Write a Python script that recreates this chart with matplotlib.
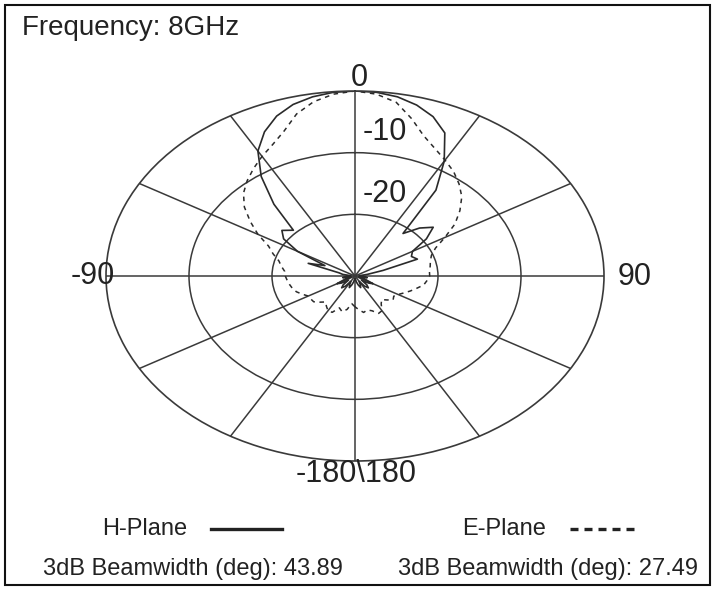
import numpy as np
import matplotlib.pyplot as plt
from matplotlib.lines import Line2D
from matplotlib.patches import Rectangle


# measured pattern, angle in degrees (0 = boresight, clockwise), gain in dB
ANGLES_DEG = list(range(-180, 181, 5))

H_PLANE_DB = [
    -29.5, -29.5, -29.0, -28.5, -28.0, -28.5, -29.0, -28.0, -27.5, -28.0,
    -29.0, -28.0, -27.5, -28.5, -29.5, -29.0, -28.5, -29.0, -29.5, -29.5,
    -28.5, -28.0, -24.0, -26.0, -22.0, -19.5, -18.5, -19.5, -14.8, -10.3,
    -6.6, -4.2, -2.4, -1.2, -0.5, -0.1, 0.0, -0.1, -0.5, -1.3,
    -2.5, -4.4, -8.5, -13.0, -21.0, -19.0, -17.7, -19.5, -22.0, -22.5,
    -22.0, -26.5, -28.5, -29.5, -29.5, -29.0, -28.5, -29.0, -29.5, -28.5,
    -27.5, -28.0, -29.0, -28.0, -27.5, -28.0, -29.0, -28.5, -28.0, -28.5,
    -29.0, -29.5, -29.5,
]

E_PLANE_DB = [
    -25.0, -25.5, -24.5, -24.0, -24.5, -23.5, -23.5, -24.0, -24.5, -24.0,
    -23.5, -23.5, -23.5, -23.0, -22.5, -22.2, -22.0, -21.8, -21.6, -21.5,
    -21.0, -20.5, -19.5, -18.5, -16.5, -14.6, -12.6, -11.0, -9.8, -8.7,
    -7.6, -6.5, -5.0, -2.8, -1.3, -0.4, 0.0, -0.4, -1.4, -3.6,
    -5.8, -7.2, -8.3, -9.3, -10.5, -11.8, -13.5, -15.3, -17.5, -19.3,
    -20.2, -20.6, -20.8, -21.0, -21.0, -21.3, -21.6, -22.3, -22.9, -23.5,
    -24.0, -24.3, -24.0, -24.5, -25.0, -24.5, -23.5, -23.3, -24.0, -24.3,
    -24.0, -24.5, -25.0,
]

ANGLE_LABELS = {"0": (0.508, 1.035), "90": (1.062, 0.497),
                "-90": (-0.026, 0.499), "-180\\180": (0.503, -0.034)}
RING_LABELS = {"-10": (0.516, 0.890), "-20": (0.516, 0.722)}

H_BEAMWIDTH = 43.89
E_BEAMWIDTH = 27.49
FREQ_TEXT = "Frequency: 8GHz"


def main():
    plt.rcParams.update({
        "font.family": ["Liberation Sans", "DejaVu Sans"],
        "text.color": "#222222",
    })

    W, H = 712, 590
    fig = plt.figure(figsize=(W / 100, H / 100), dpi=100)

    # elliptical polar grid: polar axes stretched into a wide box
    ax = fig.add_axes([106 / W, (H - 461) / H, 498 / W, 370 / H], projection="polar")
    ax.set_aspect("auto")
    ax.set_theta_zero_location("N")
    ax.set_theta_direction(-1)
    ax.set_ylim(-30, 0)

    grid_col = "#3a3a3a"
    ax.set_thetagrids(np.arange(0, 360, 30), labels=[])
    ax.set_rgrids([-20, -10], labels=[])
    ax.grid(True, color=grid_col, linewidth=1.1, linestyle="-")
    ax.spines["polar"].set_color(grid_col)
    ax.spines["polar"].set_linewidth(1.2)
    ax.tick_params(length=0)

    theta = np.deg2rad(ANGLES_DEG)
    ax.plot(theta, H_PLANE_DB, color="#2a2a2a", linewidth=1.2, solid_joinstyle="round")
    ax.plot(theta, E_PLANE_DB, color="#2a2a2a", linewidth=1.1, dashes=(3, 3))

    for txt, (fx, fy) in ANGLE_LABELS.items():
        ax.text(fx, fy, txt, transform=ax.transAxes, ha="center", va="center",
                fontsize=22, clip_on=False)
    for txt, (fx, fy) in RING_LABELS.items():
        ax.text(fx, fy, txt, transform=ax.transAxes, ha="left", va="center",
                fontsize=22, clip_on=False)

    fig.text(22 / W, 1 - 28 / H, FREQ_TEXT, ha="left", va="center", fontsize=20)

    # legend rows
    fig.text(145 / W, 1 - 529 / H, "H-Plane", ha="center", va="center", fontsize=17)
    fig.add_artist(Line2D([211 / W, 282 / W], [1 - 529 / H] * 2, transform=fig.transFigure,
                          color="#222222", linewidth=2.4))
    fig.text(504 / W, 1 - 529 / H, "E-Plane", ha="center", va="center", fontsize=17)
    fig.add_artist(Line2D([570 / W, 634 / W], [1 - 529 / H] * 2, transform=fig.transFigure,
                          color="#222222", linewidth=2.4, dashes=(2.4, 1.8)))

    fig.text(193 / W, 1 - 569 / H, f"3dB Beamwidth (deg): {H_BEAMWIDTH:.2f}",
             ha="center", va="center", fontsize=17)
    fig.text(548 / W, 1 - 569 / H, f"3dB Beamwidth (deg): {E_BEAMWIDTH:.2f}",
             ha="center", va="center", fontsize=17)

    fig.add_artist(Rectangle((4.5 / W, 5 / H), 705 / W, 580 / H, fill=False,
                             edgecolor="#111111", linewidth=1.5, transform=fig.transFigure))

    fig.savefig("out.png", dpi=100)
    plt.close(fig)


if __name__ == "__main__":
    main()
